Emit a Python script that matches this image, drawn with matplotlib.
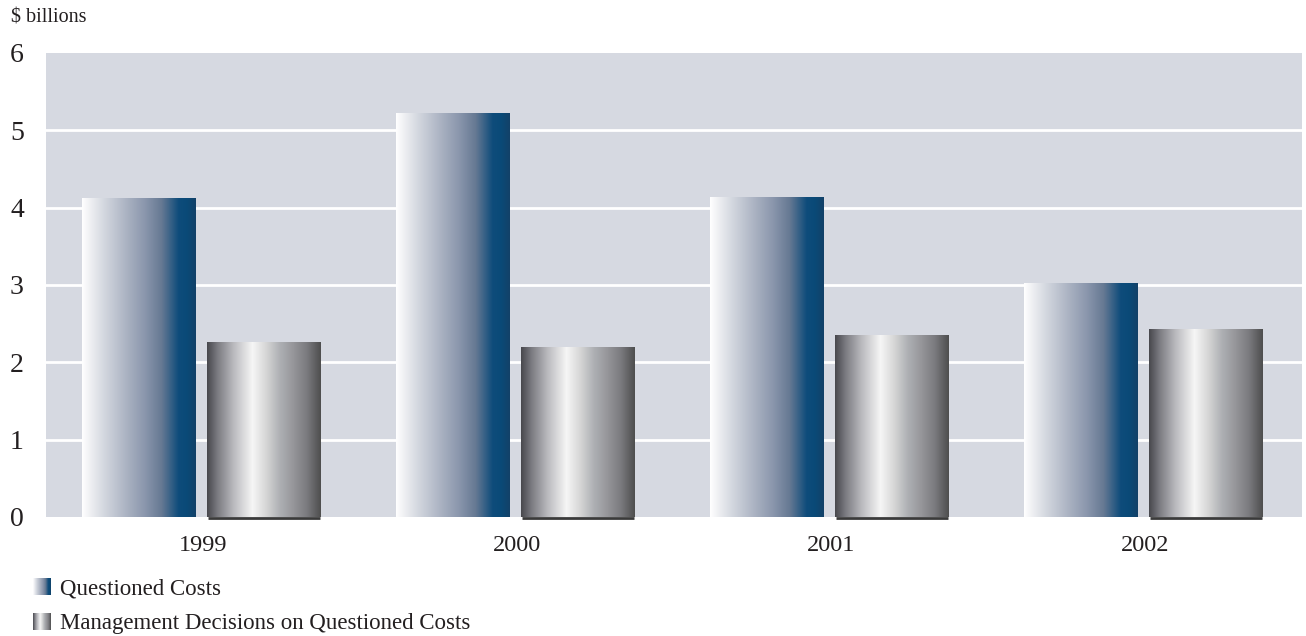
import numpy as np
import matplotlib
matplotlib.use("Agg")
import matplotlib.pyplot as plt
from matplotlib.colors import LinearSegmentedColormap

years = ["1999", "2000", "2001", "2002"]
questioned_costs = [4.12, 5.22, 4.13, 3.02]
management_decisions = [2.26, 2.19, 2.35, 2.43]
y_ticks = [0, 1, 2, 3, 4, 5, 6]

plt.rcParams["font.family"] = ["Liberation Serif", "DejaVu Serif"]
TEXT = "#231f20"

blue_cmap = LinearSegmentedColormap.from_list("blue_steel", [
    (0.00, "#ffffff"), (0.07, "#eff0f3"), (0.20, "#d2d6de"), (0.40, "#a9b1c1"),
    (0.55, "#8b97ad"), (0.70, "#667993"), (0.85, "#0e4c7b"), (0.92, "#0a4a78"),
    (1.00, "#134168")])
gray_cmap = LinearSegmentedColormap.from_list("chrome", [
    (0.00, "#48484d"), (0.09, "#7a7a80"), (0.23, "#b9b9bd"), (0.40, "#f6f6f6"),
    (0.52, "#d6d6d6"), (0.64, "#aeb0b4"), (0.76, "#96969a"), (0.88, "#7a7a7e"),
    (1.00, "#4e4e4e")])

fig = plt.figure(figsize=(13.06, 6.36), dpi=100)
ax = fig.add_axes([46 / 1306, 119 / 636, 1256 / 1306, 464 / 636])
ax.set_facecolor("#d6d9e1")

for t in y_ticks[1:-1]:
    ax.axhline(t, color="white", lw=2, zorder=1)

grad = np.linspace(0, 1, 256).reshape(1, -1)
bar_w = 0.363


def gradient_bar(x0, h, cmap):
    ax.imshow(grad, cmap=cmap, aspect="auto", extent=(x0, x0 + bar_w, 0, h),
              interpolation="bilinear", zorder=2)


for i in range(len(years)):
    gradient_bar(i - 0.385, questioned_costs[i], blue_cmap)
    gradient_bar(i + 0.013, management_decisions[i], gray_cmap)
    ax.plot([i + 0.015, i + 0.013 + bar_w - 0.002], [-0.015, -0.015],
            color="#3a3a3a", lw=2, solid_capstyle="butt", clip_on=False, zorder=3)

ax.set_xlim(-0.5, 3.5)
ax.set_ylim(0, 6)
ax.set_xticks(range(len(years)))
ax.set_xticklabels(years, fontsize=17.5, color=TEXT)
ax.set_yticks(y_ticks)
ax.set_yticklabels([str(t) for t in y_ticks], fontsize=20, color=TEXT)
ax.tick_params(axis="both", length=0)
ax.tick_params(axis="x", pad=13)
ax.tick_params(axis="y", pad=16)
for s in ax.spines.values():
    s.set_visible(False)

fig.text(11 / 1306, 1 - 18 / 636, "$ billions", fontsize=14.5, color=TEXT,
         ha="left", va="center")

# legend swatches with the same gradients
for k, (label, cmap) in enumerate([("Questioned Costs", blue_cmap),
                                   ("Management Decisions on Questioned Costs", gray_cmap)]):
    yc = 586.5 + 35 * k
    sw = fig.add_axes([33 / 1306, 1 - (yc + 8.5) / 636, 17 / 1306, 17 / 636])
    sw.imshow(grad, cmap=cmap, aspect="auto", interpolation="bilinear")
    sw.axis("off")
    fig.text(60 / 1306, 1 - (yc + 2) / 636, label, fontsize=16.5, color=TEXT,
             ha="left", va="center")

fig.savefig("out.png", dpi=100, facecolor="white")
